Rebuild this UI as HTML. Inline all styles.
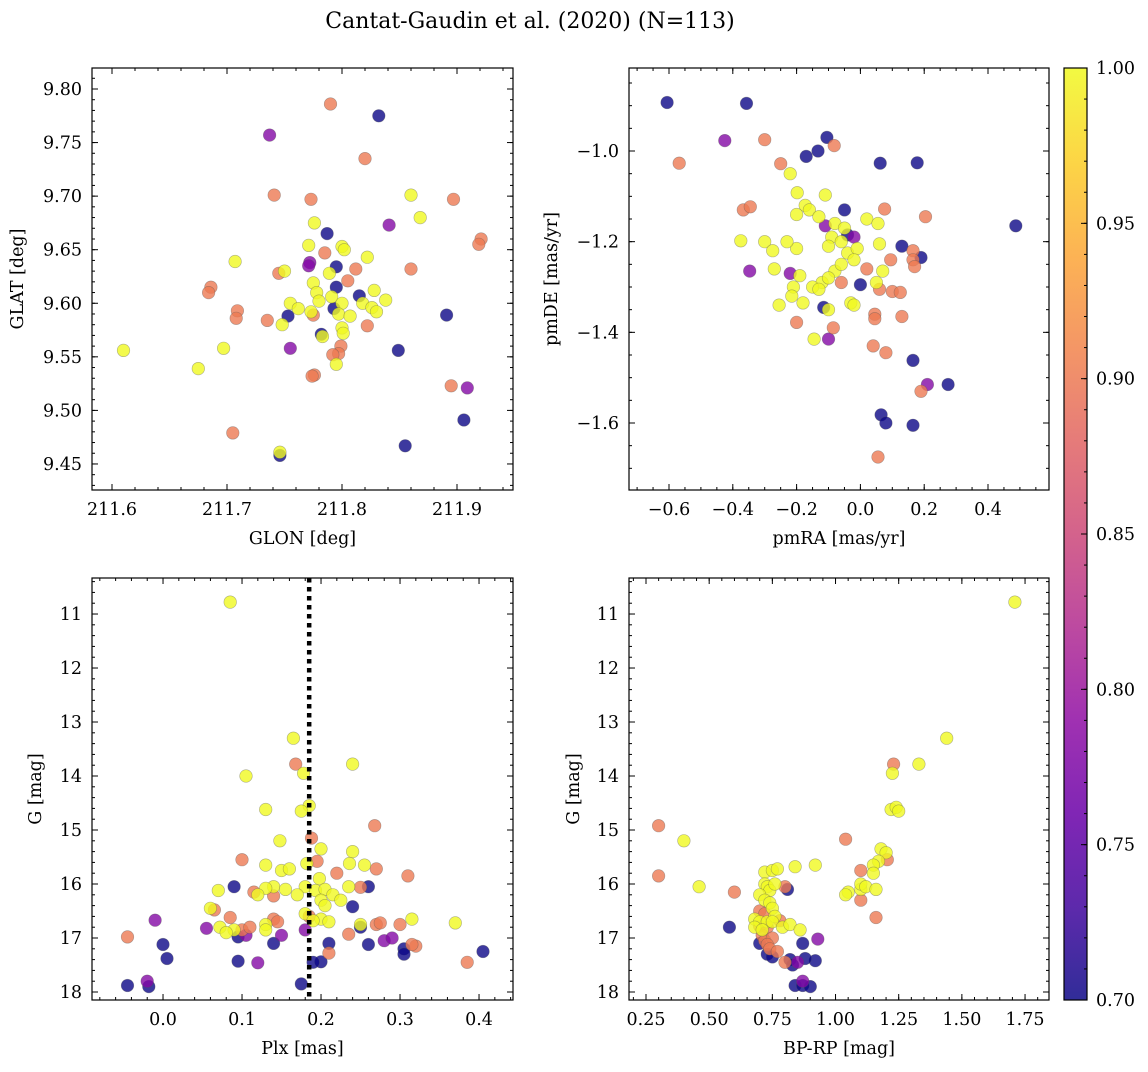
<!DOCTYPE html>
<html><head><meta charset="utf-8"><style>
body{margin:0;background:#fff;}
svg text{font-family:"DejaVu Serif","Liberation Serif",serif;fill:#000;}
</style></head><body>
<svg id="fig" width="1148" height="1067" xmlns="http://www.w3.org/2000/svg">
<rect width="1148" height="1067" fill="#fff"/>
<text x="530" y="28" font-size="22" text-anchor="middle">Cantat-Gaudin et al. (2020) (N=113)</text>
<defs><linearGradient id="plasma" x1="0" y1="1" x2="0" y2="0">
<stop offset="0" stop-color="#0d0887"/><stop offset="0.1" stop-color="#41049d"/><stop offset="0.2" stop-color="#6a00a8"/><stop offset="0.3" stop-color="#8f0da4"/><stop offset="0.4" stop-color="#b12a90"/><stop offset="0.5" stop-color="#cc4778"/><stop offset="0.6" stop-color="#e16462"/><stop offset="0.7" stop-color="#f2844b"/><stop offset="0.8" stop-color="#fca636"/><stop offset="0.9" stop-color="#fcce25"/><stop offset="1" stop-color="#f0f921"/>
</linearGradient></defs>
</svg>
<script>
// Panel 1: GLON / GLAT / prob
const p1Lon=[211.790,211.832,211.737,211.820,211.741,211.773,211.860,211.897,211.868,211.776,211.841,211.787,211.921,211.919,211.771,211.800,211.802,211.785,211.707,211.822,211.772,211.771,211.795,211.812,211.860,211.745,211.750,211.789,211.775,211.805,211.795,211.686,211.684,211.778,211.828,211.815,211.755,211.780,211.791,211.800,211.818,211.838,211.709,211.762,211.773,211.793,211.797,211.826,211.830,211.753,211.807,211.891,211.708,211.735,211.775,211.748,211.822,211.800,211.801,211.782,211.783,211.610,211.697,211.755,211.799,211.797,211.792,211.849,211.795,211.675,211.776,211.774,211.895,211.909,211.906,211.705,211.855,211.746,211.746];
const p1Lat=[9.786,9.775,9.757,9.735,9.701,9.697,9.701,9.697,9.680,9.675,9.673,9.665,9.660,9.655,9.654,9.653,9.650,9.647,9.639,9.643,9.638,9.635,9.634,9.632,9.632,9.628,9.630,9.628,9.619,9.621,9.615,9.615,9.610,9.610,9.612,9.607,9.600,9.602,9.606,9.600,9.600,9.603,9.593,9.595,9.592,9.595,9.590,9.596,9.592,9.588,9.588,9.589,9.586,9.584,9.589,9.580,9.579,9.577,9.572,9.571,9.569,9.556,9.558,9.558,9.560,9.553,9.552,9.556,9.543,9.539,9.533,9.532,9.523,9.521,9.491,9.479,9.467,9.458,9.461];
const p1Prob=[0.9,0.7,0.78,0.9,0.9,0.9,1,0.9,1,1,0.78,0.7,0.9,0.9,1,1,1,0.9,1,1,0.78,0.78,0.7,0.9,0.9,0.9,1,1,1,0.9,0.7,0.9,0.9,1,1,0.7,1,1,1,1,1,1,0.9,1,1,0.7,1,1,1,0.7,1,0.7,0.9,0.9,0.9,1,0.9,1,1,0.7,1,1,1,0.78,0.9,0.9,0.9,0.7,1,1,0.9,0.9,0.9,0.78,0.7,0.9,0.7,0.7,1];
// Panel 2: pmRA / pmDE / prob
const p2Ra=[-0.606,-0.357,-0.568,-0.425,-0.300,-0.105,-0.082,-0.170,-0.133,-0.250,0.062,0.178,-0.220,-0.198,-0.110,-0.367,-0.345,-0.173,-0.160,-0.050,0.076,0.02,-0.200,-0.13,-0.08,0.055,0.204,0.487,-0.3,-0.375,-0.275,-0.2,-0.11,-0.05,-0.04,-0.02,-0.09,-0.06,0.06,0.13,-0.23,-0.1,-0.04,-0.01,0.095,0.165,0.19,0.165,-0.347,-0.27,-0.22,-0.19,-0.12,-0.08,-0.1,-0.06,-0.02,0.02,0.07,0.17,-0.21,-0.215,-0.15,-0.13,-0.06,0.0,0.05,0.06,0.1,0.125,-0.255,-0.18,-0.115,-0.1,-0.03,-0.02,0.045,0.045,0.13,-0.2,-0.085,-0.145,-0.1,0.04,0.08,0.165,0.19,0.21,0.275,0.065,0.08,0.165,0.055];
const p2De=[-0.893,-0.895,-1.027,-0.977,-0.975,-0.970,-0.988,-1.012,-1.000,-1.028,-1.027,-1.026,-1.05,-1.092,-1.097,-1.130,-1.123,-1.12,-1.13,-1.13,-1.128,-1.15,-1.14,-1.145,-1.16,-1.16,-1.145,-1.165,-1.2,-1.198,-1.22,-1.215,-1.165,-1.17,-1.185,-1.19,-1.19,-1.2,-1.205,-1.21,-1.2,-1.21,-1.225,-1.215,-1.24,-1.22,-1.235,-1.24,-1.265,-1.26,-1.27,-1.275,-1.29,-1.265,-1.28,-1.25,-1.24,-1.26,-1.265,-1.255,-1.3,-1.32,-1.3,-1.305,-1.29,-1.295,-1.29,-1.305,-1.31,-1.312,-1.34,-1.335,-1.345,-1.35,-1.335,-1.34,-1.36,-1.37,-1.365,-1.378,-1.39,-1.415,-1.415,-1.43,-1.445,-1.462,-1.53,-1.515,-1.515,-1.582,-1.6,-1.605,-1.675];
const p2Prob=[0.7,0.7,0.9,0.78,0.9,0.7,0.9,0.7,0.7,0.9,0.7,0.7,1,1,1,0.9,0.9,1,1,0.7,0.9,1,1,1,1,1,0.9,0.7,1,1,1,1,0.78,1,0.7,0.78,1,1,1,0.7,1,1,1,1,0.9,0.9,0.7,0.9,0.78,1,0.78,1,1,1,1,1,1,0.9,1,0.9,1,1,1,1,0.9,0.7,1,0.9,0.9,0.9,1,1,0.7,1,1,1,0.9,0.9,0.9,0.9,0.9,1,0.78,0.9,0.9,0.7,0.9,0.78,0.7,0.7,0.7,0.7,0.9];
// Panel 3: Plx / G / prob
const p3Plx=[0.085,0.165,0.24,0.168,0.178,0.105,0.185,0.175,0.13,0.268,0.148,0.188,0.24,0.2,0.1,0.195,0.182,0.236,0.13,0.255,0.27,0.15,0.16,0.22,0.31,0.198,0.14,0.13,0.155,0.07,0.09,0.18,0.193,0.205,0.235,0.25,0.26,0.115,0.12,0.14,0.17,0.2,0.215,0.225,0.205,0.24,0.06,0.065,0.18,0.185,0.2,0.14,0.145,0.19,0.21,0.13,0.25,0.27,0.275,0.3,0.315,0.37,0.085,-0.01,0.055,0.072,0.09,0.1,0.11,0.08,0.13,0.18,0.235,0.25,0.095,0.105,0.15,0.28,0.29,0.21,0.26,0.305,0.32,0.315,0.21,0.0,-0.045,0.305,0.405,0.385,0.005,0.12,0.095,0.2,0.19,0.14,-0.02,-0.045,-0.018,0.175];
const p3G=[10.78,13.3,13.78,13.78,13.95,14.0,14.55,14.65,14.62,14.92,15.2,15.15,15.4,15.35,15.55,15.58,15.62,15.62,15.65,15.65,15.72,15.75,15.72,15.8,15.85,15.9,16.05,16.08,16.1,16.12,16.05,16.05,16.12,16.1,16.05,16.06,16.05,16.15,16.2,16.22,16.2,16.3,16.2,16.3,16.4,16.42,16.45,16.48,16.55,16.6,16.65,16.65,16.7,16.68,16.7,16.75,16.75,16.75,16.72,16.75,16.65,16.72,16.62,16.67,16.82,16.8,16.85,16.85,16.8,16.9,16.85,16.85,16.93,16.8,16.98,16.95,16.95,17.05,17.0,17.1,17.12,17.2,17.15,17.12,17.28,17.12,16.98,17.3,17.25,17.45,17.38,17.46,17.43,17.44,17.45,17.1,17.8,17.88,17.9,17.85];
const p3Prob=[1,1,1,0.9,1,1,1,1,1,0.9,1,0.9,1,1,0.9,0.9,1,1,1,1,0.9,1,1,0.9,0.9,1,1,1,1,1,0.7,1,1,1,1,0.9,0.7,0.9,1,0.9,1,1,1,1,1,0.7,1,0.9,1,0.9,1,0.9,0.9,1,1,1,1,0.9,0.9,0.9,1,1,0.9,0.78,0.78,1,1,0.9,0.9,1,1,0.78,0.9,0.7,0.7,0.78,0.78,0.78,0.78,0.7,0.7,0.7,0.9,0.9,0.9,0.7,0.9,0.7,0.7,0.9,0.7,0.78,0.7,0.7,0.7,0.7,0.78,0.7,0.7,0.7];
// Panel 4: BP-RP / G / prob
const p4Col=[1.71,1.44,1.33,1.23,1.225,1.22,1.24,1.25,0.3,0.4,1.04,1.18,1.2,1.205,0.92,1.17,1.15,0.84,0.72,0.75,0.77,1.1,1.15,0.3,0.46,0.6,0.72,0.73,0.74,0.76,0.8,0.81,1.05,1.04,1.1,1.1,1.12,1.16,1.1,0.7,0.72,0.74,0.75,0.7,0.72,0.68,0.7,0.73,0.68,0.71,0.7,0.73,0.76,0.75,0.79,0.82,0.78,0.86,0.58,1.16,0.71,0.72,0.75,0.7,0.73,0.74,0.93,0.87,0.73,0.75,0.77,0.82,0.85,0.8,0.83,0.92,0.88,0.87,0.84,0.87,0.9];
const p4G=[10.78,13.3,13.78,13.78,13.95,14.62,14.58,14.65,14.92,15.2,15.17,15.35,15.42,15.55,15.65,15.58,15.65,15.68,15.78,15.75,15.72,15.75,15.8,15.85,16.05,16.15,16.0,16.05,16.12,16.0,16.05,16.1,16.15,16.2,16.1,16.0,16.05,16.1,16.3,16.2,16.3,16.35,16.45,16.5,16.55,16.65,16.7,16.7,16.8,16.85,16.78,16.8,16.6,16.7,16.8,16.75,16.68,16.85,16.8,16.62,16.95,17.05,17.0,17.1,17.12,17.2,17.02,17.1,17.3,17.35,17.25,17.4,17.45,17.45,17.5,17.42,17.38,17.8,17.88,17.88,17.9];
const p4Prob=[1,1,1,0.9,1,1,1,1,0.9,1,0.9,1,1,0.9,1,1,1,1,1,1,1,0.9,1,0.9,1,0.9,1,1,1,1,0.9,0.7,1,1,1,1,1,1,0.9,1,1,1,1,0.9,0.9,1,1,1,1,1,0.9,0.9,1,1,1,1,0.9,1,0.7,0.9,0.9,0.9,0.9,0.7,0.9,0.9,0.78,0.7,0.7,0.7,0.9,0.7,0.78,0.9,0.7,0.7,0.7,0.78,0.7,0.7,0.7];
const cbTicks=[0.70,0.75,0.80,0.85,0.90,0.95,1.00];

const NS='http://www.w3.org/2000/svg';
const svg=document.getElementById('fig');
function mk(tag,attrs,parent){const e=document.createElementNS(NS,tag);for(const k in attrs)e.setAttribute(k,attrs[k]);(parent||svg).appendChild(e);return e;}
const stops=[[0,'#0d0887'],[0.1,'#41049d'],[0.2,'#6a00a8'],[0.3,'#8f0da4'],[0.4,'#b12a90'],[0.5,'#cc4778'],[0.6,'#e16462'],[0.7,'#f2844b'],[0.8,'#fca636'],[0.9,'#fcce25'],[1,'#f0f921']];
function hex(h){return[parseInt(h.substr(1,2),16),parseInt(h.substr(3,2),16),parseInt(h.substr(5,2),16)];}
function plasma(p){let t=Math.max(0,Math.min(1,(p-0.7)/0.3));for(let i=1;i<stops.length;i++){if(t<=stops[i][0]){const a=stops[i-1],b=stops[i];const f=(t-a[0])/(b[0]-a[0]);const ca=hex(a[1]),cb=hex(b[1]);return 'rgb('+ca.map((v,j)=>Math.round(v+(cb[j]-v)*f)).join(',')+')';}}return stops[10][1];}
const FS=17.5;
function panel(o){
  const g=mk('g',{});
  
  
  const {L,T,R,B}=o;
  const sx=v=>L+(v-o.xmin)/(o.xmax-o.xmin)*(R-L);
  const sy=o.inv?(v=>T+(v-o.ymin)/(o.ymax-o.ymin)*(B-T)):(v=>B-(v-o.ymin)/(o.ymax-o.ymin)*(B-T));
  const clip='c'+o.name;
  const cp=mk('clipPath',{id:clip},g);mk('rect',{x:L,y:T,width:R-L,height:B-T},cp);
  const pts=mk('g',{'clip-path':'url(#'+clip+')'},g);
  const idx=o.p.map((_,i)=>i).sort((a,b)=>o.p[a]-o.p[b]);
  idx.forEach(i=>{
    const c=mk('circle',{cx:sx(o.x[i]).toFixed(1),cy:sy(o.y[i]).toFixed(1),r:6.3,fill:plasma(o.p[i]),'fill-opacity':0.8,stroke:'#555','stroke-opacity':0.45,'stroke-width':0.6},pts);
    
    
  });
  if(o.vline!==undefined){const l=mk('line',{x1:sx(o.vline),x2:sx(o.vline),y1:T,y2:B,stroke:'#000','stroke-width':4.5,'stroke-dasharray':'4.5,4.5'},g);}
  mk('rect',{x:L,y:T,width:R-L,height:B-T,fill:'none',stroke:'#000','stroke-width':1.2},g);
  const xt=mk('g',{},g);
  for(let k=Math.ceil(o.xmin/o.xmin_step-1e-9);k*o.xmin_step<=o.xmax+1e-9;k++){const v=k*o.xmin_step;const X=sx(v);
    mk('line',{x1:X,x2:X,y1:B,y2:B-3,stroke:'#000'},xt);mk('line',{x1:X,x2:X,y1:T,y2:T+3,stroke:'#000'},xt);}
  o.xt.forEach(v=>{const X=sx(v);mk('line',{x1:X,x2:X,y1:B,y2:B-6,stroke:'#000'},xt);mk('line',{x1:X,x2:X,y1:T,y2:T+6,stroke:'#000'},xt);
    const t=mk('text',{x:X,y:B+25,'font-size':FS,'text-anchor':'middle'},xt);t.textContent=o.xf(v).replace('-','\u2212');});
  const yt=mk('g',{},g);
  const ylo=Math.min(o.ymin,o.ymax),yhi=Math.max(o.ymin,o.ymax);
  for(let k=Math.ceil(ylo/o.ymin_step-1e-9);k*o.ymin_step<=yhi+1e-9;k++){const v=k*o.ymin_step;const Y=sy(v);
    mk('line',{x1:L,x2:L+3,y1:Y,y2:Y,stroke:'#000'},yt);mk('line',{x1:R,x2:R-3,y1:Y,y2:Y,stroke:'#000'},yt);}
  o.yt.forEach(v=>{const Y=sy(v);mk('line',{x1:L,x2:L+6,y1:Y,y2:Y,stroke:'#000'},yt);mk('line',{x1:R,x2:R-6,y1:Y,y2:Y,stroke:'#000'},yt);
    const t=mk('text',{x:L-10,y:Y+6,'font-size':FS,'text-anchor':'end'},yt);t.textContent=o.yf(v).replace('-','\u2212');});
  const xl=mk('text',{x:(L+R)/2,y:B+54,'font-size':FS,'text-anchor':'middle'},g);xl.textContent=o.xlab;
  
  const yl=mk('text',{x:0,y:0,'font-size':FS,'text-anchor':'middle',transform:'translate('+o.ylx+','+(T+B)/2+') rotate(-90)'},g);yl.textContent=o.ylab;
  
}
const f1=v=>v.toFixed(1),f2=v=>v.toFixed(2),f0=v=>v.toFixed(0);
panel({name:'glon-glat-panel',L:92,T:68,R:513,B:490,xmin:211.5826,xmax:211.9487,ymin:9.4257,ymax:9.8196,x:p1Lon,y:p1Lat,p:p1Prob,
  xt:[211.6,211.7,211.8,211.9],xmin_step:0.02,yt:[9.45,9.5,9.55,9.6,9.65,9.7,9.75,9.8],ymin_step:0.01,xf:f1,yf:f2,xlab:'GLON [deg]',ylab:'GLAT [deg]',ylx:23});
panel({name:'proper-motion-panel',L:629,T:68,R:1049,B:490,xmin:-0.7254,xmax:0.5912,ymin:-1.7478,ymax:-0.8169,x:p2Ra,y:p2De,p:p2Prob,
  xt:[-0.6,-0.4,-0.2,0,0.2,0.4],xmin_step:0.05,yt:[-1.6,-1.4,-1.2,-1.0],ymin_step:0.05,xf:f1,yf:f1,xlab:'pmRA [mas/yr]',ylab:'pmDE [mas/yr]',ylx:557});
panel({name:'parallax-magnitude-panel',L:92,T:578,R:513,B:1000,xmin:-0.0899,xmax:0.4430,ymin:10.333,ymax:18.148,inv:true,x:p3Plx,y:p3G,p:p3Prob,vline:0.185,
  xt:[0,0.1,0.2,0.3,0.4],xmin_step:0.02,yt:[11,12,13,14,15,16,17,18],ymin_step:0.2,xf:f1,yf:f0,xlab:'Plx [mas]',ylab:'G [mag]',ylx:41});
panel({name:'color-magnitude-panel',L:629,T:578,R:1049,B:1000,xmin:0.1827,xmax:1.8448,ymin:10.333,ymax:18.148,inv:true,x:p4Col,y:p4G,p:p4Prob,
  xt:[0.25,0.5,0.75,1.0,1.25,1.5,1.75],xmin_step:0.05,yt:[11,12,13,14,15,16,17,18],ymin_step:0.2,xf:f2,yf:f0,xlab:'BP-RP [mag]',ylab:'G [mag]',ylx:579});
const cb=mk('g',{});
const cT=68,cB=1000,cL=1064,cR=1087;
mk('rect',{x:cL,y:cT,width:cR-cL,height:cB-cT,fill:'url(#plasma)','fill-opacity':0.85,stroke:'#000','stroke-width':1.2},cb);
const cy=v=>cB-(v-0.7)/0.3*(cB-cT);
for(let k=70;k<=100;k++){const Y=cy(k/100);mk('line',{x1:cR,x2:cR-3,y1:Y,y2:Y,stroke:'#000'},cb);}
cbTicks.forEach(v=>{const Y=cy(v);mk('line',{x1:cR,x2:cR-6,y1:Y,y2:Y,stroke:'#000'},cb);const t=mk('text',{x:cR+9,y:Y+6,'font-size':FS},cb);t.textContent=v.toFixed(2);});
</script>
</body></html>
